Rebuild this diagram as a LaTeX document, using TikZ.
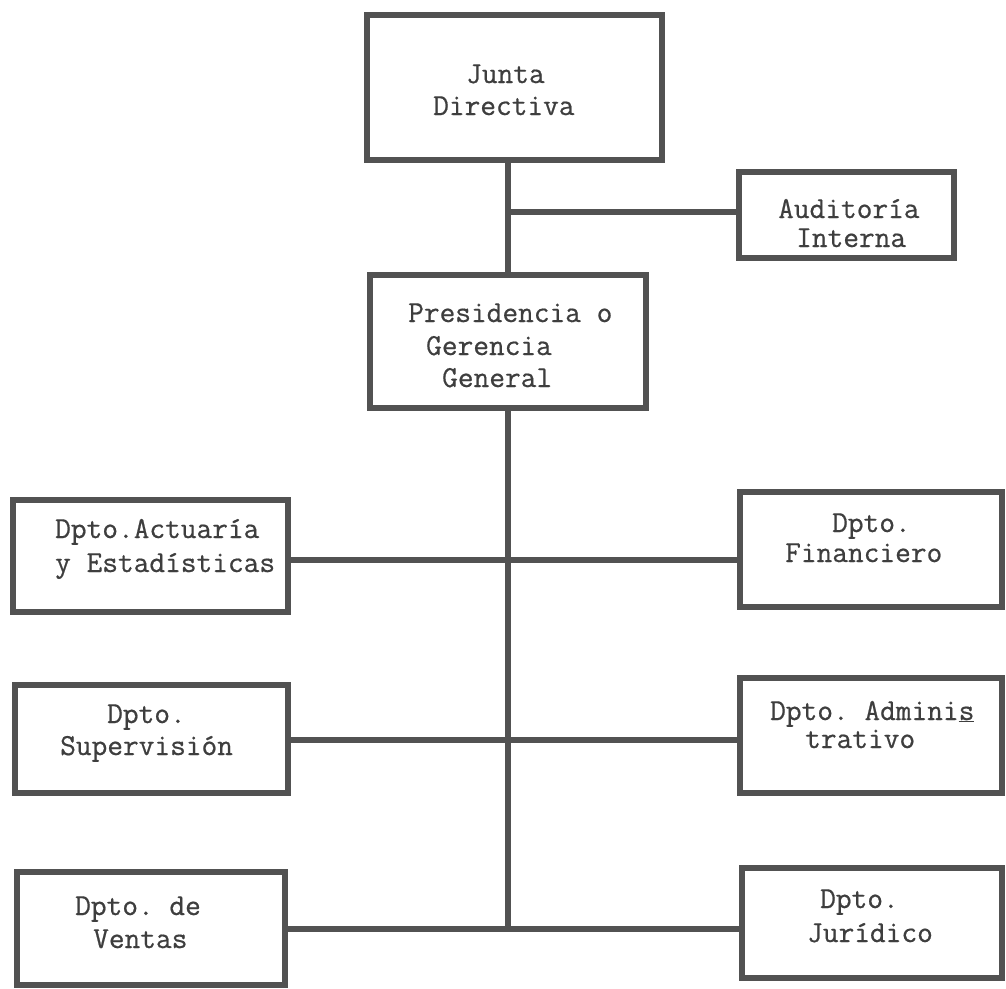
\documentclass[tikz,border=0pt]{standalone}
\usepackage{fontspec}
\setmonofont{Latin Modern Mono}[FakeBold=0.6]
\definecolor{ink}{RGB}{82,82,82}
\definecolor{txt}{RGB}{62,62,62}
\begin{document}
\begin{tikzpicture}[x=1pt,y=-1pt,
  box/.style={draw=ink, line width=6pt, rectangle, inner sep=0pt},
  conn/.style={draw=ink, line width=5.5pt},
  lbl/.style={anchor=base west, inner sep=0pt, text=txt, font=\ttfamily\fontsize{30.5}{32}\selectfont}]
\useasboundingbox[fill=white] (0,0) rectangle (1006,988);

% boxes
\node[box, minimum width=295pt, minimum height=145pt] (junta) at (514.5,87.5) {};
\node[box, minimum width=215pt, minimum height=86pt]  (aud)   at (846.5,215) {};
\node[box, minimum width=276pt, minimum height=133pt] (pres)  at (508,341.5) {};
\node[box, minimum width=275pt, minimum height=112pt] (act)   at (150.5,556) {};
\node[box, minimum width=273pt, minimum height=108pt] (sup)   at (151.5,739) {};
\node[box, minimum width=268pt, minimum height=113pt] (ven)   at (151,928.5) {};
\node[box, minimum width=262pt, minimum height=115pt] (fin)   at (871,549.5) {};
\node[box, minimum width=262pt, minimum height=115pt] (adm)   at (871,735.5) {};
\node[box, minimum width=260pt, minimum height=110pt] (jur)   at (872,923) {};

% junctions on the spine
\coordinate (ja) at (508,212);
\coordinate (j1) at (508,560);
\coordinate (j2) at (508,740);
\coordinate (j3) at (508,929);

% connectors
\draw[conn] (junta.south -| pres.north) -- (pres.north);
\draw[conn] (ja) -- (aud.west |- ja);
\draw[conn] (pres.south) -- (j3);
\draw[conn] (act.east |- j1) -- (fin.west |- j1);
\draw[conn] (sup.east |- j2) -- (adm.west |- j2);
\draw[conn] (ven.east |- j3) -- (jur.west |- j3);

% texts
\node[lbl] (tj1) at (466,83)  {Junta};
\node[lbl] (tj2) at (433,115) {Directiva};
\node[lbl] (ta1) at (778,218) {Auditoría};
\node[lbl] (ta2) at (796,247) {Interna};
\node[lbl] (tp1) at (408,322) {Presidencia o};
\node[lbl] (tp2) at (426,355) {Gerencia};
\node[lbl] (tp3) at (442,387) {General};
\node[lbl] (tc1) at (55,538)  {Dpto.Actuaría};
\node[lbl] (tc2) at (55,572)  {y Estadísticas};
\node[lbl] (ts1) at (107,723) {Dpto.};
\node[lbl] (ts2) at (60,755)  {Supervisión};
\node[lbl] (tv1) at (75,915)  {Dpto. de};
\node[lbl] (tv2) at (93,948)  {Ventas};
\node[lbl] (tf1) at (832,532) {Dpto.};
\node[lbl] (tf2) at (785,562) {Financiero};
\node[lbl] (td1) at (770,720) {Dpto. Admini\underline{s}};
\node[lbl] (td2) at (805,748) {trativo};
\node[lbl] (tu1) at (820,908) {Dpto.};
\node[lbl] (tu2) at (807,942) {Jurídico};
\end{tikzpicture}
\end{document}
